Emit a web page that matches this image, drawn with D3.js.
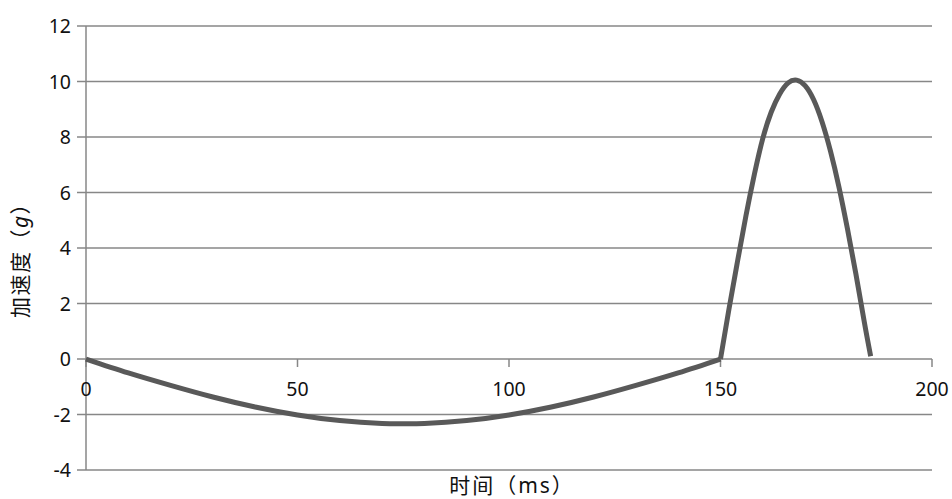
<!DOCTYPE html>
<html>
<head>
<meta charset="utf-8">
<script src="https://cdn.jsdelivr.net/npm/d3@7"></script>
<style>
  body { margin: 0; background: #fff; }
  text { font-family: "Noto Sans", "Noto Sans CJK SC", sans-serif; }
</style>
</head>
<body>
<svg id="chart" width="952" height="499"></svg>
<script>
// first phase (0-150 ms)
let timeA = [0, 10, 20, 30, 40, 50, 60, 70, 75, 80, 90, 100, 110, 120, 130, 140, 150];
let accelA = [0, -0.5, -0.95, -1.37, -1.73, -2.02, -2.22, -2.32, -2.33, -2.32, -2.22, -2.02, -1.73, -1.37, -0.95, -0.5, 0];
// second phase (150-185.5 ms)
let timeB = [150, 152, 154, 156, 158, 160, 162, 164, 166, 168, 170, 172, 174, 176, 178, 180, 182, 184, 185.5];
let accelB = [0, 1.8, 3.5, 5.15, 6.65, 7.95, 8.9, 9.55, 9.95, 10.05, 9.85, 9.35, 8.55, 7.49, 6.2, 4.7, 3.07, 1.33, 0.1];

let xTicks = [0, 50, 100, 150, 200];
let yTicks = [-4, -2, 0, 2, 4, 6, 8, 10, 12];

let svg = d3.select("#chart");
let mLeft = 86, mRight = 932, mTop = 26, mBottom = 470;

let x = d3.scaleLinear().domain([0, 200]).range([mLeft, mRight]);
let y = d3.scaleLinear().domain([-4, 12]).range([mBottom, mTop]);

let grid = "#878787";

// horizontal gridlines + y ticks
svg.append("g").selectAll("line").data(yTicks).enter().append("line")
  .attr("x1", mLeft - 9).attr("x2", mRight)
  .attr("y1", d => y(d)).attr("y2", d => y(d))
  .attr("stroke", grid).attr("stroke-width", 1.5);

// y axis line
svg.append("line")
  .attr("x1", mLeft).attr("x2", mLeft)
  .attr("y1", y(12)).attr("y2", y(-4))
  .attr("stroke", grid).attr("stroke-width", 1.5);

// y labels
svg.append("g").selectAll("text").data(yTicks).enter().append("text")
  .attr("x", 71).attr("y", d => y(d))
  .attr("dy", "0.36em")
  .attr("text-anchor", "end")
  .attr("font-size", 19.5)
  .attr("fill", "#111")
  .text(d => d);

// x ticks on the zero line
svg.append("g").selectAll("line").data(xTicks).enter().append("line")
  .attr("x1", d => x(d)).attr("x2", d => x(d))
  .attr("y1", y(0)).attr("y2", y(0) + 8)
  .attr("stroke", grid).attr("stroke-width", 1.5);

// x labels
svg.append("g").selectAll("text").data(xTicks).enter().append("text")
  .attr("x", d => x(d)).attr("y", y(0) + 30)
  .attr("dy", "0.36em")
  .attr("text-anchor", "middle")
  .attr("font-size", 19.5)
  .attr("fill", "#111")
  .text(d => d);

let line = d3.line()
  .x(d => x(d[0]))
  .y(d => y(d[1]))
  .curve(d3.curveNatural);

let partA = timeA.map((t, i) => [t, accelA[i]]);
let partB = timeB.map((t, i) => [t, accelB[i]]);

[partA, partB].forEach(p => {
  svg.append("path")
    .datum(p)
    .attr("d", line)
    .attr("fill", "none")
    .attr("stroke", "#595959")
    .attr("stroke-width", 5)
    .attr("stroke-linejoin", "round");
});

// axis titles
svg.append("text")
  .attr("x", 512).attr("y", 486)
  .attr("dy", "0.35em")
  .attr("text-anchor", "middle")
  .attr("font-size", 21)
  .attr("letter-spacing", 2)
  .attr("font-family", "'Noto Sans CJK SC', sans-serif")
  .attr("fill", "#111")
  .text("时间（ms）");

let yt = svg.append("text")
  .attr("transform", "translate(21,255) rotate(-90)")
  .attr("dy", "0.35em")
  .attr("text-anchor", "middle")
  .attr("font-size", 21)
  .attr("letter-spacing", 1.5)
  .attr("font-family", "'Noto Sans CJK SC', sans-serif")
  .attr("fill", "#111");
yt.append("tspan").text("加速度（");
yt.append("tspan").attr("font-style", "italic").attr("font-family", "'Noto Sans', sans-serif").text("g");
yt.append("tspan").text("）");
</script>
</body>
</html>
